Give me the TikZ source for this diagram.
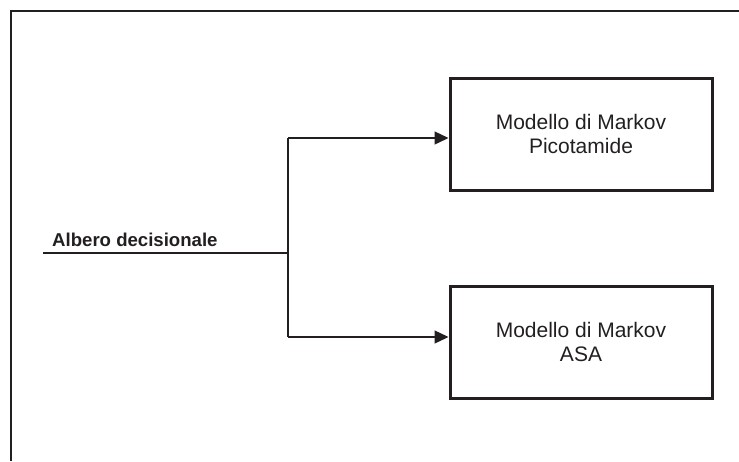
\documentclass[tikz,border=0pt]{standalone}
\usepackage{fontspec}
\setmainfont{Liberation Sans}
\usetikzlibrary{arrows.meta}
\definecolor{ink}{HTML}{231F20}
\begin{document}
\begin{tikzpicture}[x=1pt,y=-1pt,
  model/.style={draw=ink,line width=3pt,minimum width=262pt,minimum height=112pt,
    inner sep=0pt,align=center,font=\fontsize{21}{23.5}\selectfont,text=ink},
  conn/.style={draw=ink,line width=1.4pt},
  arr/.style={conn,-{Triangle[length=14pt,width=13pt]}}]
\useasboundingbox (0,0) rectangle (739,461);
% frame (top and left edges only)
\draw[ink,line width=2.8pt] (11,461) -- (11,11) -- (739,11);
% boxes
\node[model] (p) at (581,134) {Modello di Markov\\Picotamide};
\node[model] (a) at (581,342) {Modello di Markov\\ASA};
% label and connectors
\node[anchor=base west,inner sep=0pt,font=\bfseries\fontsize{18.6}{20}\selectfont,text=ink] (lab) at (52,246) {Albero decisionale};
\coordinate (start) at (43,253);
\coordinate (split) at (288,253);
\coordinate (top) at (288,138);
\coordinate (bot) at (288,337);
\draw[conn] (start) -- (split);
\draw[conn] (top) -- (bot);
\draw[arr] (top) -- (top -| p.west);
\draw[arr] (bot) -- (bot -| a.west);
\end{tikzpicture}
\end{document}
